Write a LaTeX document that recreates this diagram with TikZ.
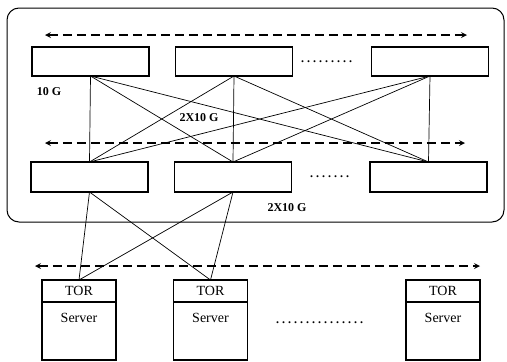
\documentclass[tikz,border=0pt]{standalone}
\usepackage{fontspec}
\setmainfont{Liberation Serif}
\usetikzlibrary{positioning,arrows,calc}

\newcommand{\dotrun}[1]{\foreach \k in {1,...,#1}{.\kern3pt}}

\begin{document}
\begin{tikzpicture}[x=1pt,y=-1pt,
  switch/.style={rectangle,draw,line width=1.5pt,minimum width=117pt,minimum height=29pt,inner sep=0pt,outer sep=0pt},
  tor/.style={rectangle,draw,line width=1.3pt,minimum width=74pt,minimum height=22pt,inner sep=0pt,outer sep=0pt,font=\fontsize{14}{16}\selectfont},
  server/.style={rectangle,draw,line width=1.3pt,minimum width=74pt,minimum height=58pt,inner sep=0pt,outer sep=0pt,
    label={[font=\fontsize{14}{16}\selectfont,anchor=north,yshift=-8pt]north:Server}},
  link/.style={line width=0.7pt},
  bus/.style={<->,>=stealth,line width=1.6pt,dash pattern=on 9pt off 5pt},
  speed/.style={font=\bfseries\fontsize{12}{14}\selectfont},
  more/.style={font=\bfseries\fontsize{12}{14}\selectfont,inner sep=0pt},
]
\useasboundingbox (0,0) rectangle (507,362);

% Frame round core and aggregation
\draw[line width=1pt,rounded corners=12pt] (7,8) rectangle (504,222);

% Core row
\node[switch] (core1) at (90.5,61.5) {};
\node[switch] (core2) at (234,61.5) {};
\node[switch] (core3) at (430,61.5) {};
\node[more] (dots1) at (328,62) {\dotrun{9}};

% Aggregation row
\node[switch,minimum height=30pt] (agg1) at (89.5,177) {};
\node[switch,minimum height=30pt] (agg2) at (233,177) {};
\node[switch,minimum height=30pt] (agg3) at (428.5,177) {};
\node[more] (dots2) at (331,177) {\dotrun{7}};

% TOR + Server racks
\node[tor] (tor1) at (79,291) {TOR};
\node[tor] (tor2) at (210.5,291) {TOR};
\node[tor] (tor3) at (443,291) {TOR};
\node[server,below=0pt of tor1] (srv1) {};
\node[server,below=0pt of tor2] (srv2) {};
\node[server,below=0pt of tor3] (srv3) {};
\node[more] (dots3) at (321,323) {\dotrun{15}};

% Links core -> aggregation
\foreach \c in {core1,core2,core3}
  \foreach \a in {agg1,agg2,agg3}
    \draw[link] (\c.south) -- (\a.north);

% Links aggregation -> TOR
\foreach \a in {agg1,agg2}
  \foreach \t in {tor1,tor2}
    \draw[link] (\a.south) -- (\t.north);

% Speed labels
\node[speed] (s10) at (49,92) {10 G};
\node[speed] (s20a) at (199,118) {2X10 G};
\node[speed] (s20b) at (287,208) {2X10 G};

% Dashed buses
\coordinate (b1l) at (45,35);  \coordinate (b1r) at (467,35);
\coordinate (b2l) at (45,143); \coordinate (b2r) at (465,143);
\coordinate (b3l) at (35,266); \coordinate (b3r) at (480,266);
\draw[bus] (b1l) -- (b1r);
\draw[bus] (b2l) -- (b2r);
\draw[bus] (b3l) -- (b3r);

\end{tikzpicture}
\end{document}
